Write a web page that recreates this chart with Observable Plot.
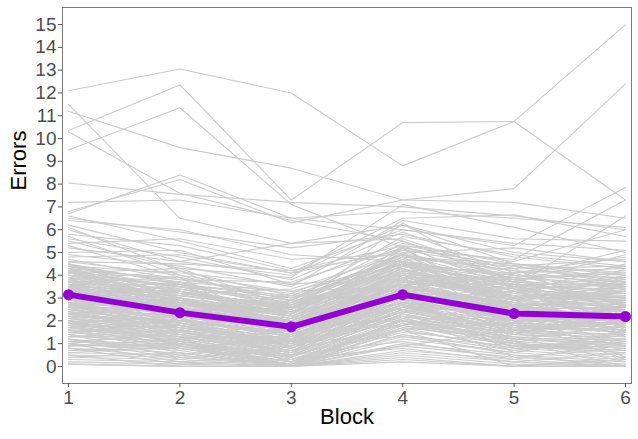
<!DOCTYPE html>
<html><head><meta charset="utf-8">
<script src="https://cdn.jsdelivr.net/npm/d3@7"></script>
<script src="https://cdn.jsdelivr.net/npm/@observablehq/plot@0.6"></script>
<style>body{margin:0;background:#fff;} svg{display:block}</style>
</head><body><div id="chart"></div>
<script>
const blocks = [1, 2, 3, 4, 5, 6];
const yTicks = [0,1,2,3,4,5,6,7,8,9,10,11,12,13,14,15];
const meanErrors = [3.15, 2.36, 1.74, 3.15, 2.32, 2.19];
const subjectErrors = [
[4.5,3.6,3.1,4.8,4.2,4.0],[4.4,3.4,2.8,4.6,3.9,3.6],[4.3,3.8,3.2,5.1,4.3,4.4],[4.2,3.1,2.5,4.4,3.6,3.3],
[4.1,3.5,2.9,4.9,4.0,3.9],[4.0,2.9,2.2,4.3,3.2,3.0],[4.0,3.3,2.6,4.5,3.8,4.1],[3.9,3.6,3.0,4.7,4.4,3.7],
[3.9,2.8,2.0,4.0,3.1,2.8],[3.8,3.2,2.7,4.2,3.5,3.4],[3.8,3.0,1.9,3.8,3.0,3.1],[3.7,3.4,2.4,4.4,3.7,3.5],
[3.7,2.6,2.1,3.9,2.9,2.7],[3.6,3.1,2.8,4.6,3.3,3.8],[3.6,2.9,1.8,3.5,2.8,2.4],[3.5,3.3,2.3,4.1,3.6,3.2],
[3.5,2.7,2.5,4.3,2.7,2.9],[3.4,3.0,2.0,3.7,3.4,3.6],[3.4,2.5,1.7,3.6,2.6,2.2],[3.3,2.8,2.2,4.0,3.0,3.0],
[3.3,3.1,2.6,3.9,3.9,3.4],[3.2,2.4,1.5,3.4,2.5,2.3],[3.2,2.7,2.1,3.8,2.9,2.6],[3.1,2.9,2.4,4.2,3.1,3.3],
[3.1,2.3,1.6,3.3,2.2,2.0],[3.0,2.6,1.9,3.6,2.7,2.8],[3.0,2.2,1.4,3.1,2.4,2.1],[2.9,2.5,2.0,3.5,2.6,2.5],
[2.9,2.8,1.8,3.7,3.2,2.9],[2.8,2.1,1.3,3.0,2.0,1.9],[2.8,2.4,1.7,3.4,2.8,2.4],[2.7,2.0,1.5,3.2,2.3,2.2],
[2.7,2.3,1.1,2.9,1.9,1.7],[2.6,2.2,1.6,3.3,2.5,2.6],[2.6,1.9,1.2,2.8,2.1,1.8],[2.5,2.1,1.4,3.1,2.2,2.0],
[2.5,1.8,1.0,2.7,1.7,1.6],[2.4,2.0,1.3,3.0,2.4,2.3],[2.4,1.7,0.9,2.6,1.8,1.5],[2.3,1.9,1.2,2.9,2.0,1.9],
[2.3,1.6,0.8,2.5,1.6,1.4],[2.2,1.8,1.1,2.8,2.1,2.2],[2.2,1.5,0.7,2.4,1.5,1.2],[2.1,1.7,1.0,2.7,1.9,1.7],
[2.1,1.4,0.6,2.3,1.4,1.1],[2.0,1.6,0.9,2.6,1.8,1.6],[2.0,1.3,0.5,2.2,1.3,1.0],[1.9,1.5,0.8,2.5,1.7,1.5],
[1.9,1.2,0.4,2.1,1.2,0.9],[1.8,1.4,0.7,2.4,1.6,1.3],[1.8,1.1,0.3,2.0,1.1,0.8],[1.7,1.3,0.6,2.3,1.5,1.2],
[1.6,1.0,0.2,1.9,1.0,0.7],[1.5,1.2,0.5,2.2,1.4,1.1],[1.4,0.9,0.1,1.8,0.9,0.6],[1.3,1.1,0.4,2.0,1.3,1.0],
[1.2,0.8,0.0,1.6,0.8,0.5],[1.1,1.0,0.3,1.7,1.2,0.9],[1.0,0.7,0.0,1.4,0.7,0.4],[0.9,0.9,0.2,1.5,1.0,0.8],
[0.8,0.6,0.0,1.2,0.6,0.3],[0.7,0.8,0.1,1.3,0.9,0.7],[0.6,0.5,0.0,1.0,0.5,0.2],[0.5,0.4,0.0,0.9,0.4,0.1],
[0.4,0.3,0.0,0.7,0.3,0.0],[0.3,0.2,0.0,0.6,0.2,0.0],[0.2,0.1,0.0,0.5,0.1,0.0],[0.1,0.0,0.0,0.3,0.0,0.0],
[0.1,0.0,0.0,0.2,0.0,0.0],
[4.4,2.6,1.5,3.2,2.0,2.8],[4.2,2.2,1.9,3.6,1.6,2.5],[4.1,3.9,1.2,2.9,3.3,1.8],[3.9,2.0,2.9,3.1,2.4,1.4],
[3.8,4.2,2.3,5.0,2.1,2.3],[3.6,1.7,1.1,4.5,2.6,3.1],[3.5,2.3,3.1,3.0,1.8,2.7],[3.4,3.7,1.3,2.6,3.5,1.9],
[3.3,1.6,2.7,4.8,2.3,3.6],[3.2,2.1,0.9,3.9,1.5,2.0],[3.1,3.5,2.2,2.5,2.8,3.9],[3.0,1.5,1.0,4.4,3.7,1.3],
[2.9,3.2,2.6,2.3,1.4,2.7],[2.8,1.3,0.6,3.8,2.9,3.2],[2.7,2.9,2.3,4.6,1.2,1.8],[2.6,1.2,1.7,2.1,3.3,2.4],
[2.5,2.7,0.5,3.5,2.5,0.9],[2.4,1.1,2.1,4.1,1.1,2.9],[2.3,2.6,1.5,1.8,3.0,1.4],[2.2,0.9,0.4,3.3,2.2,3.4],
[2.1,2.4,1.9,2.0,0.9,1.0],[2.0,0.8,1.2,3.7,2.7,2.1],[1.9,2.2,0.3,1.6,1.9,2.6],[1.8,0.7,1.4,3.0,0.8,1.2],
[1.7,2.0,0.8,2.6,2.4,0.4],[1.6,0.6,0.0,2.8,1.5,1.9],[1.5,1.8,1.1,1.3,0.6,1.5],[1.4,0.4,0.7,2.5,2.0,0.3],
[1.3,1.6,0.2,0.9,1.6,2.2],[1.2,0.3,0.9,2.2,0.4,0.8],[1.1,1.4,0.0,1.9,1.3,0.2],[1.0,0.2,0.5,1.1,0.3,1.1],
[0.9,1.2,0.0,2.1,1.1,0.0],[0.8,0.1,0.3,0.8,0.2,0.6],[0.7,1.0,0.0,1.6,0.0,0.3],[0.5,0.0,0.0,1.4,0.5,0.0],
[0.4,0.6,0.0,0.4,0.0,0.4],[4.5,3.0,2.4,3.4,4.1,2.6],[4.3,2.4,2.0,5.3,3.4,3.0],[4.0,3.7,3.3,3.5,2.5,3.5],
[3.7,3.9,1.6,4.2,4.3,2.2],[3.5,2.0,2.6,5.2,2.4,4.3],[3.2,3.0,1.2,3.4,4.0,3.7],[3.0,3.4,2.5,4.7,1.7,2.6],
[2.8,1.7,2.8,3.6,3.6,2.0],[2.6,3.0,1.6,4.2,2.9,4.0],[2.4,1.4,1.8,3.2,3.9,1.6],[2.2,2.8,2.4,4.3,2.6,3.1],
[2.0,1.0,1.6,3.4,1.0,2.4],[1.8,2.5,0.6,4.0,3.4,1.7],[1.6,1.3,1.3,2.7,2.2,3.0],[1.4,2.1,0.4,3.5,1.4,2.3],
[1.2,0.5,1.1,2.4,2.7,1.3],[1.0,1.5,0.6,3.1,0.6,1.6],[0.8,0.4,0.1,2.0,1.8,0.9],[0.6,0.9,0.0,1.7,0.7,1.4],
[4.6,4.0,2.7,5.0,3.8,4.2],[4.4,4.1,3.6,4.0,3.2,4.5],[4.2,3.5,2.9,5.4,4.5,3.8],[4.3,3.2,3.4,4.9,3.0,3.1],
[4.1,4.3,2.6,4.4,4.1,4.3],
[4.5,3.3,2.1,4.1,3.3,3.2],[4.4,3.7,2.5,4.7,3.5,3.9],[4.3,2.8,2.3,4.0,2.8,2.5],[4.2,3.9,3.0,4.5,4.0,3.4],
[4.1,3.0,1.8,3.8,3.1,2.9],[4.0,3.5,2.8,4.9,3.6,3.6],[3.9,3.3,2.2,4.3,2.9,3.3],[3.8,2.7,2.4,4.0,3.8,2.7],
[3.7,3.2,1.9,3.9,3.2,3.0],[3.6,3.6,2.6,4.6,3.0,3.5],[3.5,2.9,2.0,3.8,2.5,2.6],[3.4,3.2,2.7,4.4,3.3,2.9],
[3.3,2.6,1.6,3.5,2.7,3.3],[3.2,3.3,2.5,4.1,3.5,2.8],[3.1,2.5,1.8,3.6,2.1,2.5],[3.0,2.9,2.2,3.9,3.1,3.2],
[2.9,2.3,1.4,3.2,2.4,2.0],[2.8,2.7,2.0,3.6,2.7,2.7],[2.7,2.1,1.3,3.4,2.0,2.3],[2.6,2.5,1.8,3.0,2.6,2.1],
[2.5,1.9,1.2,3.3,1.9,2.5],[2.4,2.3,1.6,2.8,2.3,1.8],[2.3,1.8,0.9,3.1,2.1,2.0],[2.2,2.0,1.4,2.6,1.6,1.9],
[2.1,1.6,1.1,2.9,2.2,1.6],[2.0,1.9,1.0,2.4,1.7,2.0],[1.9,1.4,0.8,2.7,1.4,1.3],[1.8,1.7,1.2,2.2,1.8,1.6],
[1.7,1.1,0.5,2.5,1.2,1.0],[1.6,1.5,0.9,2.0,1.5,1.4],[1.5,1.0,0.4,2.3,1.0,0.7],[1.3,1.3,0.7,1.8,1.2,1.2],
[1.1,0.8,0.2,2.0,0.9,0.6],[0.9,1.0,0.5,1.6,0.8,0.9],[3.6,2.4,2.9,4.8,2.2,3.4],[3.1,3.6,1.5,3.7,3.9,2.4],
[2.7,1.5,2.6,4.5,1.6,2.9],[2.3,2.9,1.0,3.2,3.1,1.5],[4.2,2.6,1.7,5.2,2.6,3.7],[3.4,2.2,3.2,2.8,3.6,3.0],
[12.1,13.05,12.0,8.8,10.75,15.0],[10.35,12.35,7.3,10.7,10.75,7.3],[11.2,9.6,8.7,7.3,7.2,6.5],
[11.5,6.5,5.4,6.2,4.5,4.0],[10.3,7.6,6.4,5.5,3.8,3.2],[9.5,11.35,7.1,5.2,4.4,3.6],
[8.05,7.55,7.2,7.0,6.6,6.0],[7.2,7.3,6.5,6.8,6.5,6.1],[6.7,8.4,6.5,6.0,5.4,5.1],
[6.8,8.2,6.3,7.3,7.8,12.4],[6.6,5.5,4.3,6.0,5.3,7.85],[6.5,5.9,5.2,5.8,4.8,4.3],
[6.4,6.0,4.9,4.6,3.9,5.1],[6.2,5.0,4.1,6.5,6.65,5.7],[6.0,4.6,5.4,5.6,4.0,3.9],
[5.8,5.3,4.2,5.3,4.6,6.0],[5.6,4.8,3.8,5.9,4.1,4.8],[5.5,4.3,3.9,7.1,6.1,5.0],
[5.4,5.6,4.7,4.9,4.2,3.5],[5.2,4.6,4.0,6.2,5.0,4.6],[5.0,5.1,3.6,5.5,3.7,4.9],
[4.8,4.9,4.1,5.1,4.7,7.3],[5.7,4.0,3.3,4.5,3.5,6.6],[5.3,3.9,2.9,5.7,4.9,4.4],
[4.9,4.4,3.5,6.4,5.6,5.5],[4.7,3.8,3.7,5.2,4.4,4.7],[6.1,4.2,3.1,4.8,4.5,4.1],
[3.9,3.0,2.3,6.3,3.4,3.0],[4.6,4.5,4.2,5.0,5.2,4.6]
];

const rows = subjectErrors.flatMap((vals, i) => vals.map((v, j) => ({subject: i, block: blocks[j], errors: v})));
const means = meanErrors.map((v, j) => ({block: blocks[j], errors: v}));

const chart = Plot.plot({
  width: 638, height: 439,
  marginLeft: 62, marginRight: 7, marginTop: 7, marginBottom: 56,
  style: {fontFamily: "Arial, 'Liberation Sans', sans-serif", background: "#fff", overflow: "visible"},
  x: {domain: [0.946, 6.054]},
  y: {domain: [-0.75, 15.75]},
  marks: [
    Plot.line(rows, {x: "block", y: "errors", z: "subject", stroke: "#cbcbcb", strokeWidth: 1.1}),
    Plot.line(means, {x: "block", y: "errors", stroke: "#9400d3", strokeWidth: 6}),
    Plot.dot(means, {x: "block", y: "errors", fill: "#9400d3", r: 5.5}),
    Plot.frame({stroke: "#7a7a7a"}),
    Plot.axisX({ticks: blocks, tickFormat: d => d, tickSize: 4, tickPadding: 3, fontSize: 19, color: "#4d4d4d", stroke: "#555", label: null}),
    Plot.axisY({ticks: yTicks, tickFormat: d => d, tickSize: 4, tickPadding: 2, fontSize: 19, color: "#4d4d4d", stroke: "#555", label: null}),
    Plot.text(["Block"], {frameAnchor: "bottom", dy: 40, fontSize: 22, fill: "#000"}),
    Plot.text(["Errors"], {frameAnchor: "left", dx: -44, dy: -5, rotate: -90, fontSize: 22, fill: "#000"})
  ]
});
document.getElementById("chart").appendChild(chart);
</script></body></html>
